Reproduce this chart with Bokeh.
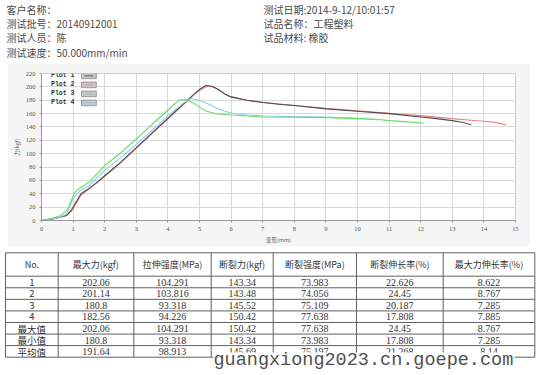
from bokeh.plotting import figure
from bokeh.layouts import column, row
from bokeh.models import Range1d, SingleIntervalTicker, Spacer
from bokeh.core.properties import value
from bokeh.embed import file_html
from bokeh.resources import INLINE

# ---------------- header info ----------------
header_left = ["客户名称：", "测试批号：20140912001", "测试人员：陈", "测试速度：50.000mm/min"]
header_right = ["测试日期:2014-9-12/10:01:57", "试品名称：工程塑料", "试品材料: 橡胶"]

# ---------------- curves ----------------
series_names = ["Plot 1", "Plot 2", "Plot 3", "Plot 4"]
series_colors = ["#4d4d4d", "#e88484", "#66dd66", "#8ccbee"]

x1 = [0, 0.3, 0.6, 0.8, 0.95, 1.1, 1.25, 1.5, 1.75, 2.0, 2.5, 3.0, 3.5, 4.0, 4.5, 4.8, 5.0, 5.2, 5.4, 5.6, 5.8, 6.0, 6.5, 7.0, 7.5, 8.0, 9.0, 10.0, 11.0, 12.0, 12.5, 13.0, 13.3, 13.6]
y1 = [0, 2, 5, 8, 16, 28, 40, 48, 57, 67, 87, 109, 131, 153, 175, 188, 196, 202, 201, 196, 189.5, 185, 180, 176.5, 174, 172, 167, 163.5, 160, 155, 152.5, 149.5, 147, 143.3]

x2 = [0, 0.3, 0.6, 0.8, 0.95, 1.1, 1.25, 1.5, 1.75, 2.0, 2.5, 3.0, 3.5, 4.0, 4.5, 4.8, 5.0, 5.26, 5.45, 5.65, 5.85, 6.0, 6.5, 7.0, 7.5, 8.0, 9.0, 10.0, 11.0, 12.0, 13.0, 13.5, 14.0, 14.4, 14.7]
y2 = [0, 2, 5, 7.5, 14, 26, 38, 47, 56, 66, 86, 108, 130, 152, 174, 187, 195, 201, 199.5, 194, 188, 185, 180, 177, 174.5, 172, 168, 164, 160.5, 157, 152.5, 150.5, 148.5, 146.5, 143.5]

x3 = [0, 0.3, 0.6, 0.8, 0.9, 1.05, 1.2, 1.5, 2.0, 2.5, 3.0, 3.5, 4.0, 4.2, 4.37, 4.6, 4.8, 5.0, 5.2, 5.5, 6.0, 6.5, 7.0, 8.0, 9.0, 10.0, 10.6, 11.0, 11.5, 12.1]
y3 = [0, 3, 7, 15, 25, 42, 48, 57, 82, 101, 122, 144, 165, 174, 180.8, 180.5, 176, 170, 164, 160, 158, 156.5, 155, 154.5, 154, 152.5, 151.5, 149.5, 148, 145.5]

x4 = [0, 0.3, 0.6, 0.8, 1.0, 1.2, 1.5, 2.0, 2.5, 3.0, 3.5, 4.0, 4.5, 4.73, 5.0, 5.3, 5.6, 6.0, 6.5, 7.0, 8.0, 9.0, 10.0, 10.68]
y4 = [0, 2, 5, 10, 33, 44, 52, 75, 94, 114, 135, 157, 176, 182.5, 180, 174, 167, 161, 158, 156.5, 155.5, 155, 153, 150.4]

# ---------------- table ----------------
table_headers = ["No.", "最大力(kgf)", "拉伸强度(MPa)", "断裂力(kgf)", "断裂强度(MPa)", "断裂伸长率(%)", "最大力伸长率(%)"]
row_labels = ["1", "2", "3", "4", "最大值", "最小值", "平均值"]
max_force = ["202.06", "201.14", "180.8", "182.56", "202.06", "180.8", "191.64"]
tensile_strength = ["104.291", "103.816", "93.318", "94.226", "104.291", "93.318", "98.913"]
break_force = ["143.34", "143.48", "145.52", "150.42", "150.42", "143.34", "145.69"]
break_strength = ["73.983", "74.056", "75.109", "77.638", "77.638", "73.983", "75.197"]
break_elongation = ["22.626", "24.45", "20.187", "17.808", "24.45", "17.808", "21.268"]
max_force_elongation = ["8.622", "8.767", "7.285", "7.885", "8.767", "7.285", "8.14"]

watermark = "guangxiong2023.cn.goepe.com"

CJK = "Noto Sans CJK SC"
SERIF = "Liberation Serif"

# ================= header figure =================
W = 546
hdr = figure(width=W, height=63, x_range=Range1d(0, W), y_range=Range1d(63, 0),
             output_backend="svg", toolbar_location=None, min_border=0,
             outline_line_color=None, background_fill_color="white", border_fill_color="white")
hdr.axis.visible = False
hdr.grid.visible = False
line_y = [8.5 + 14.4 * i for i in range(4)]
hdr.text(x=[6] * len(header_left), y=line_y[:len(header_left)], text=header_left,
         text_font=value(CJK), text_font_size="10px", text_color="#4a4a4a",
         text_baseline="middle", text_align="left")
hdr.text(x=[263] * len(header_right), y=line_y[:len(header_right)], text=header_right,
         text_font=value(CJK), text_font_size="10px", text_color="#4a4a4a",
         text_baseline="middle", text_align="left")

# ================= chart figure =================
p = figure(width=523, height=183, x_range=Range1d(0, 15), y_range=Range1d(0, 220),
           output_backend="svg", toolbar_location=None,
           min_border_left=34, min_border_right=15, min_border_top=10, min_border_bottom=20,
           background_fill_color="white", border_fill_color="#f5f5f5",
           outline_line_color="#cfcfcf")
p.xaxis.ticker = SingleIntervalTicker(interval=1)
p.yaxis.ticker = SingleIntervalTicker(interval=20)
p.grid.grid_line_color = "#d9d9d9"
p.grid.grid_line_width = 1
p.xaxis.axis_label = "变形(mm)"
p.yaxis.axis_label = "力(kgf)"
for ax in (p.xaxis[0], p.yaxis[0]):
    ax.axis_line_color = "#9a9a9a"
    ax.major_tick_line_color = "#9a9a9a"
    ax.minor_tick_line_color = None
    ax.major_tick_in = 0
    ax.major_tick_out = 2
    ax.major_label_standoff = 2
    ax.major_label_text_font = SERIF
    ax.major_label_text_font_size = "6.5px"
    ax.major_label_text_color = "#555555"
    ax.axis_label_text_font = CJK
    ax.axis_label_text_font_size = "5.5px"
    ax.axis_label_text_font_style = "normal"
    ax.axis_label_text_color = "#555555"
    ax.axis_label_standoff = 2

xs = [x1, x2, x3, x4]
ys = [y1, y2, y3, y4]
for i in [1, 0, 3, 2]:
    p.line(xs[i], ys[i], line_color=series_colors[i], line_width=1.1)

# manual legend (label left, icon right) inside top-left of the plot area
leg_y = [216.5 - 13.5 * i for i in range(len(series_names))]
p.text(x=[0.3] * len(series_names), y=leg_y, text=series_names,
       text_font=value("Liberation Mono"), text_font_size="6.5px", text_color="#333333",
       text_font_style="bold", text_baseline="middle", text_align="left")
p.rect(x=[1.5] * len(series_names), y=leg_y, width=0.47, height=8.5,
       fill_color="#c8c8c8", line_color="#8c8c8c", line_width=0.8)
p.segment(x0=[1.36] * 4, y0=leg_y, x1=[1.64] * 4, y1=leg_y,
          line_color=series_colors, line_width=0.8)

# ================= table figure =================
TH = 129
tbl = figure(width=W, height=TH, x_range=Range1d(0, W), y_range=Range1d(TH, 0),
             output_backend="svg", toolbar_location=None, min_border=0,
             outline_line_color=None, background_fill_color="white", border_fill_color="white")
tbl.axis.visible = False
tbl.grid.visible = False

col_edges = [5, 57.7, 133.3, 210.7, 272.7, 356, 442.7, 534.3]
top, head_bottom, row_h = 6.3, 29.7, 11.57
n_rows = len(row_labels)
row_edges = [top, head_bottom] + [head_bottom + row_h * (k + 1) for k in range(n_rows)]
bottom = row_edges[-1]

# grid lines
tbl.segment(x0=[col_edges[0]] * len(row_edges), y0=row_edges,
            x1=[col_edges[-1]] * len(row_edges), y1=row_edges,
            line_color="#606060", line_width=1)
tbl.segment(x0=col_edges, y0=[top] * len(col_edges), x1=col_edges, y1=[bottom] * len(col_edges),
            line_color="#606060", line_width=1)

centers = [(col_edges[k] + col_edges[k + 1]) / 2 for k in range(len(col_edges) - 1)]
tbl.text(x=centers, y=[(top + head_bottom) / 2] * len(centers), text=table_headers,
         text_font=value(CJK), text_font_size="9px", text_color="#333333",
         text_baseline="middle", text_align="center")

row_centers = [head_bottom + row_h * (k + 0.5) for k in range(n_rows)]
cols = [row_labels, max_force, tensile_strength, break_force, break_strength,
        break_elongation, max_force_elongation]
for ci, colvals in enumerate(cols):
    font = CJK if ci == 0 else SERIF
    tbl.text(x=[centers[ci]] * n_rows, y=[c + 0.3 for c in row_centers], text=colvals,
             text_font=value(font), text_font_size="10px" if ci else "9.5px",
             text_color="#333333", text_baseline="middle", text_align="center")

# watermark with white backing
tbl.quad(left=[213], right=[514], top=[106], bottom=[127], fill_color="white", line_color=None)
tbl.text(x=[213], y=[114], text=[watermark], text_font=value("Liberation Mono"),
         text_font_size="18.5px", text_color="#505050", text_baseline="alphabetic",
         text_align="left")

layout = column(hdr, row(Spacer(width=7, height=183), p), tbl)

open("out.html", "w").write(file_html(layout, INLINE))
